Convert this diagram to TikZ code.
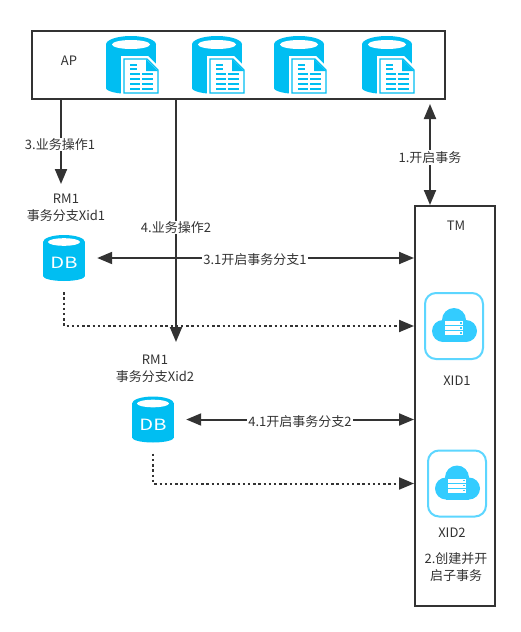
\documentclass[tikz,border=0pt]{standalone}
\usepackage{graphicx}
\usepackage{fontspec}
\setmainfont{Noto Sans CJK SC}
\usetikzlibrary{positioning, calc, arrows.meta}
\definecolor{iconblue}{HTML}{00BEF2}
\definecolor{cloudblue}{HTML}{33CCFF}
\definecolor{framecyan}{HTML}{5CD6FF}
\definecolor{inkgray}{HTML}{333333}

\begin{document}
\begin{tikzpicture}[
  x=1pt, y=-1pt,
  %% caixas AP e TM
  mbox/.style={
    rectangle, draw=inkgray, line width=2pt,
    fill=white, inner sep=0pt
  },
  %% caixa dos cilindros DB
  dbbox/.style={
    rectangle, inner sep=0pt, minimum width=42pt, minimum height=46pt,
    text=white, font=\fontsize{15.5}{15.5}\selectfont
  },
  %% caixa dos cilindros com documento
  apbox/.style={
    rectangle, inner sep=0pt, minimum width=50pt, minimum height=58pt
  },
  %% moldura das nuvens
  xidbox/.style={
    rectangle, draw=framecyan, line width=2pt, rounded corners=11pt,
    fill=white, minimum width=58pt, minimum height=66pt, inner sep=0pt
  },
  %% setas
  arr/.style={-{Triangle[length=15pt,width=12pt]}, line width=2pt, draw=inkgray},
  dblarr/.style={{Triangle[length=15pt,width=12pt]}-{Triangle[length=15pt,width=12pt]}, line width=2pt, draw=inkgray},
  dotarr/.style={arr, dash pattern=on 2.4pt off 2.8pt},
  %% textos
  lbl/.style={font=\fontsize{13}{17}\selectfont, text=inkgray, align=center, inner sep=1pt},
  elbl/.style={lbl, fill=white},
  %% icone cilindro DB
  dbicon/.pic={
    \fill[iconblue] (0,-16) ellipse [x radius=21pt, y radius=7pt];
    \fill[iconblue] (-21,-16) rectangle (21,18);
    \fill[iconblue] (0,18) ellipse [x radius=21pt, y radius=5pt];
    \fill[white] (0,-16) ellipse [x radius=16pt, y radius=3.8pt];
  },
  %% icone cilindro com documento
  docicon/.pic={
    \fill[iconblue] (0,-20.5) ellipse [x radius=25pt, y radius=8.5pt];
    \fill[iconblue] (-25,-20.5) rectangle (25,23);
    \fill[iconblue] (0,23) ellipse [x radius=25pt, y radius=6pt];
    \fill[white] (0,-20.5) ellipse [x radius=19pt, y radius=4.5pt];
    \fill[white] (-10,-9) -- (17,-9) -- (30,4) -- (30,30) -- (-10,30) -- cycle;
    \draw[iconblue, line width=1.2pt, fill=white] (-7,-6) -- (16,-6) -- (27,5) -- (27,28) -- (-7,28) -- cycle;
    \fill[iconblue] (15,-6) -- (27,6) -- (15,6) -- cycle;
    \fill[iconblue] (-1,-1) rectangle (6,1);
    \fill[iconblue] (-1,3) rectangle (6,5);
    \foreach \yb in {8,13,18,23} {
      \fill[iconblue] (-1,\yb) rectangle (9,\yb+2);
      \fill[iconblue] (11,\yb) rectangle (22,\yb+2);
    }
  },
  %% icone nuvem
  cloudicon/.pic={
    \fill[cloudblue] (0,-6) circle (12pt);
    \fill[cloudblue] (-11,5) circle (11pt);
    \fill[cloudblue] (12,5) circle (11pt);
    \fill[cloudblue] (-11,6) rectangle (12,16);
    \foreach \yb in {-5,0,5} {
      \fill[white] (-9,\yb) rectangle (9,\yb+4);
      \fill[cloudblue] (6,\yb+1.3) rectangle (7.5,\yb+2.7);
    }
  }
]
\useasboundingbox (0,0) rectangle (521,632);

%% ================================================================
%% AP
%% ================================================================
\node[mbox, minimum width=413pt, minimum height=68pt] (ap) at (238.5,65) {};
\node[lbl] (aptext) at (69,61) {AP};

\node[apbox] (apdb1) at (131,65) {};
\node[apbox] (apdb2) at (217,65) {};
\node[apbox] (apdb3) at (299,65) {};
\node[apbox] (apdb4) at (387,65) {};
\foreach \n in {1,2,3,4} {
  \pic at (apdb\n) {docicon};
}

%% ================================================================
%% TM
%% ================================================================
\node[mbox, minimum width=80pt, minimum height=400pt] (tm) at (455,406) {};
\node[lbl] (tmtext) at (456,226) {TM};

\node[xidbox] (xid1) at (454,326) {};
\pic at (xid1) {cloudicon};
\node[lbl] (xid1text) at (457,381) {XID1};

\node[xidbox] (xid2) at (457,483.5) {};
\pic at (xid2) {cloudicon};
\node[lbl] (xid2text) at (452,532.5) {XID2};

\node[lbl] (subtext) at (456,567) {2.创建并开\\启子事务};

%% ================================================================
%% RM1
%% ================================================================
\node[lbl] (rm1text) at (66,208) {RM1\\事务分支Xid1};
\pic at (64,258) {dbicon};
\node[dbbox] (db1) at (64,258) {\raisebox{-10.5pt}[0pt][0pt]{\scalebox{1.3}[1]{DB}}};

\node[lbl] (rm2text) at (155,369) {RM1\\事务分支Xid2};
\pic at (153,419.5) {dbicon};
\node[dbbox] (db2) at (153,419.5) {\raisebox{-10.5pt}[0pt][0pt]{\scalebox{1.3}[1]{DB}}};

%% ================================================================
%% SETAS
%% ================================================================
\coordinate (op1) at (61,184);
\coordinate (op2) at (176,342);
\coordinate (begin) at (430,104);

\draw[dblarr] (begin) -- (tm.north -| begin);
\draw[arr] (ap.south -| op1) -- (op1);
\draw[arr] (ap.south -| op2) -- (op2);
\draw[dblarr, shorten <=12pt] (db1.east) -- (db1.east -| tm.west);
\draw[dblarr, shorten <=12pt] (db2.east) -- (db2.east -| tm.west);
\draw[dotarr, shorten <=11pt] (db1.south) |- (xid1 -| tm.west);
\draw[dotarr, shorten <=11pt] (db2.south) |- (xid2 -| tm.west);

%% ================================================================
%% LABELS
%% ================================================================
\node[elbl] (begintext) at (430,157.5) {1.开启事务};
\node[elbl] (op1text) at (60,144.5) {3.业务操作1};
\node[elbl] (op2text) at (176,227.5) {4.业务操作2};
\node[elbl] (branch1) at (255,259.5) {3.1开启事务分支1};
\node[elbl] (branch2) at (300,421.5) {4.1开启事务分支2};

\end{tikzpicture}
\end{document}
